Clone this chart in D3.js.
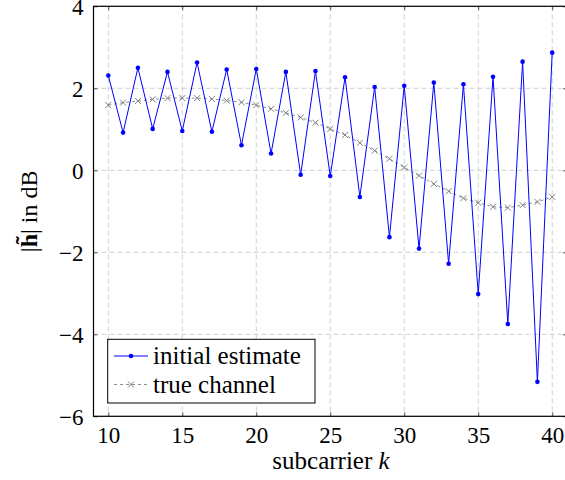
<!DOCTYPE html>
<html>
<head>
<meta charset="utf-8">
<script src="https://cdn.jsdelivr.net/npm/d3@7"></script>
<style>
  body { margin: 0; background: #fff; }
  text { font-family: "Liberation Serif", serif; fill: #000; }
</style>
</head>
<body>
<div id="chart"></div>
<script>
// subcarrier indices
const subcarriers = d3.range(10, 41);

// initial estimate |h~| in dB
const initialEstimate = [
  2.31, 0.92, 2.50, 1.01, 2.40, 0.96, 2.63, 0.94, 2.46, 0.61,
  2.47, 0.41, 2.40, -0.11, 2.42, -0.14, 2.27, -0.65, 2.03, -1.63,
  2.06, -1.91, 2.14, -2.28, 2.10, -3.02, 2.28, -3.75, 2.65, -5.16,
  2.87
];

// true channel in dB
const trueChannel = [
  1.59, 1.65, 1.69, 1.73, 1.76, 1.76, 1.76, 1.74, 1.70, 1.66,
  1.59, 1.50, 1.40, 1.29, 1.16, 1.01, 0.86, 0.67, 0.48, 0.28,
  0.07, -0.13, -0.33, -0.51, -0.68, -0.79, -0.89, -0.91, -0.85, -0.77,
  -0.65
];

const xTicks = [10, 15, 20, 25, 30, 35, 40];
const yTicks = [-6, -4, -2, 0, 2, 4];

const width = 565, height = 480;
const mLeft = 93.5, mRight = 567, mTop = 6.3, mBottom = 416.3;

const svg = d3.select('#chart')
  .append('svg')
  .attr('width', width)
  .attr('height', height);

const x = d3.scaleLinear().domain([9, 41]).range([mLeft, mRight]);
const y = d3.scaleLinear().domain([-6, 4]).range([mBottom, mTop]);

// grid
const grid = svg.append('g').attr('class', 'grid')
  .attr('stroke', '#cfcfcf')
  .attr('stroke-width', 1)
  .attr('stroke-dasharray', '5,3');
grid.selectAll('.gx')
  .data(xTicks).enter()
  .append('line')
  .attr('x1', d => x(d)).attr('x2', d => x(d))
  .attr('y1', mTop).attr('y2', mBottom);
grid.selectAll('.gy')
  .data(yTicks).enter()
  .append('line')
  .attr('x1', mLeft).attr('x2', mRight)
  .attr('y1', d => y(d)).attr('y2', d => y(d));

// axes (ticks inside on all four sides)
const tickLen = 4;
const fmt = d => d < 0 ? '\u2212' + Math.abs(d) : String(d);

const xAxisB = svg.append('g')
  .attr('transform', `translate(0,${mBottom})`)
  .call(d3.axisBottom(x).tickValues(xTicks).tickSize(-tickLen).tickPadding(10).tickFormat(fmt));
const xAxisT = svg.append('g')
  .attr('transform', `translate(0,${mTop})`)
  .call(d3.axisTop(x).tickValues(xTicks).tickSize(-tickLen).tickFormat(''));
const yAxisL = svg.append('g')
  .attr('transform', `translate(${mLeft},0)`)
  .call(d3.axisLeft(y).tickValues(yTicks).tickSize(-tickLen).tickPadding(10).tickFormat(fmt));
const yAxisR = svg.append('g')
  .attr('transform', `translate(${mRight},0)`)
  .call(d3.axisRight(y).tickValues(yTicks).tickSize(-tickLen).tickFormat(''));

[xAxisB, xAxisT, yAxisL, yAxisR].forEach(a => {
  a.select('.domain').remove();
  a.selectAll('.tick line').attr('stroke', '#555').attr('stroke-width', 1);
  a.selectAll('.tick text')
    .attr('font-family', '"Liberation Serif", serif')
    .attr('font-size', 23)
    .attr('fill', '#000');
});
xAxisB.selectAll('.tick text').attr('dy', '0.71em');
yAxisL.selectAll('.tick text').attr('dy', '0.34em');

// frame
svg.append('rect')
  .attr('x', mLeft).attr('y', mTop)
  .attr('width', mRight - mLeft).attr('height', mBottom - mTop)
  .attr('fill', 'none')
  .attr('stroke', '#000')
  .attr('stroke-width', 1.2);

const trueData = subcarriers.map((k, i) => [k, trueChannel[i]]);
const estData = subcarriers.map((k, i) => [k, initialEstimate[i]]);

const line = d3.line().x(d => x(d[0])).y(d => y(d[1]));

// true channel: gray dashed with x marks
svg.append('path')
  .datum(trueData)
  .attr('fill', 'none')
  .attr('stroke', '#808080')
  .attr('stroke-width', 0.9)
  .attr('stroke-dasharray', '3,3')
  .attr('d', line);

const cross = 3;
const crosses = svg.append('g').attr('stroke', '#808080').attr('stroke-width', 1);
crosses.selectAll('path')
  .data(trueData).enter()
  .append('path')
  .attr('d', d => {
    const cx = x(d[0]), cy = y(d[1]);
    return `M${cx - cross},${cy - cross}L${cx + cross},${cy + cross}M${cx - cross},${cy + cross}L${cx + cross},${cy - cross}`;
  });

// initial estimate: blue line with dots
svg.append('path')
  .datum(estData)
  .attr('fill', 'none')
  .attr('stroke', '#0000ff')
  .attr('stroke-width', 1)
  .attr('d', line);

svg.append('g').selectAll('circle')
  .data(estData).enter()
  .append('circle')
  .attr('cx', d => x(d[0]))
  .attr('cy', d => y(d[1]))
  .attr('r', 2.3)
  .attr('fill', '#0000ff');

// axis labels
svg.append('text')
  .attr('x', 331)
  .attr('y', 469)
  .attr('text-anchor', 'middle')
  .attr('font-size', 25)
  .html('subcarrier <tspan font-style="italic">k</tspan>');

svg.append('text')
  .attr('transform', `translate(37,${(mTop + mBottom) / 2}) rotate(-90)`)
  .attr('text-anchor', 'middle')
  .attr('font-size', 24)
  .html('|<tspan font-weight="bold">h\u0303</tspan>| in dB');

// legend
const legend = svg.append('g');
legend.append('rect')
  .attr('x', 107.7).attr('y', 339.3)
  .attr('width', 207.3).attr('height', 63.7)
  .attr('fill', '#fff')
  .attr('stroke', '#000')
  .attr('stroke-width', 1);

const legendItems = [
  { label: 'initial estimate', color: '#0000ff', dash: null, mark: 'dot' },
  { label: 'true channel', color: '#808080', dash: '3,3', mark: 'cross' }
];
legendItems.forEach((it, i) => {
  const ly = 356 + i * 28.5;
  legend.append('line')
    .attr('x1', 114).attr('x2', 148)
    .attr('y1', ly).attr('y2', ly)
    .attr('stroke', it.color)
    .attr('stroke-width', it.mark === 'dot' ? 1 : 0.9)
    .attr('stroke-dasharray', it.dash);
  if (it.mark === 'dot') {
    legend.append('circle').attr('cx', 131).attr('cy', ly).attr('r', 2.3).attr('fill', it.color);
  } else {
    legend.append('path')
      .attr('d', `M${131 - cross},${ly - cross}L${131 + cross},${ly + cross}M${131 - cross},${ly + cross}L${131 + cross},${ly - cross}`)
      .attr('stroke', it.color).attr('stroke-width', 1);
  }
  legend.append('text')
    .attr('x', 153)
    .attr('y', ly + 8)
    .attr('font-size', 25)
    .text(it.label);
});
</script>
</body>
</html>
